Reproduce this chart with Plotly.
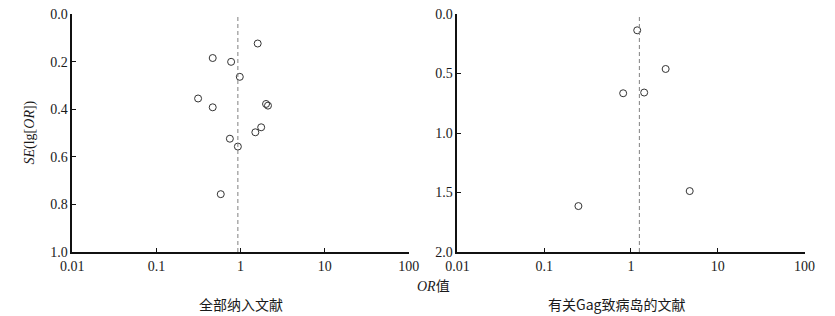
import plotly.graph_objects as go

# Left panel: all included studies
all_or = [1.60, 0.467, 0.773, 0.98, 0.313, 0.467, 2.01, 2.12, 1.76, 1.50, 0.747, 0.93, 0.582]
all_se = [0.124, 0.185, 0.201, 0.264, 0.355, 0.392, 0.378, 0.385, 0.476, 0.497, 0.524, 0.557, 0.757]
all_pooled = 0.93

# Right panel: studies on Gag pathogenicity island
gag_or = [1.18, 2.51, 0.813, 1.42, 4.75, 0.248]
gag_se = [0.137, 0.462, 0.666, 0.660, 1.488, 1.614]
gag_pooled = 1.25

x_ticks = [0.01, 0.1, 1, 10, 100]
x_tick_text = ["0.01", "0.1", "1", "10", "100"]
left_y_ticks = [0.0, 0.2, 0.4, 0.6, 0.8, 1.0]
right_y_ticks = [0.0, 0.5, 1.0, 1.5, 2.0]

SERIF = "Liberation Serif, Times New Roman, serif"
CJK = "Noto Sans CJK SC"
INK = "#1a1a1a"

W, H = 835, 316

def px(x):
    return x / W

fig = go.Figure()
marker = dict(symbol="circle-open", size=7, color="#333333", line=dict(width=1, color="#333333"))
fig.add_trace(go.Scatter(x=all_or, y=all_se, mode="markers", marker=marker,
                         xaxis="x", yaxis="y", showlegend=False))
fig.add_trace(go.Scatter(x=gag_or, y=gag_se, mode="markers", marker=marker,
                         xaxis="x2", yaxis="y2", showlegend=False))

axis_common = dict(showgrid=False, zeroline=False, showline=True, linecolor="#111111",
                   linewidth=1.5, ticks="inside", ticklen=4, tickwidth=1, tickcolor="#111111",
                   tickfont=dict(family=SERIF, size=14, color=INK), mirror=False,
                   ticklabeloverflow="allow")

top, bottom = 14, 252
fig.update_layout(
    width=W, height=H,
    font=dict(family=SERIF, size=14, color=INK),
    margin=dict(l=0, r=0, t=top, b=H - bottom),
    paper_bgcolor="white", plot_bgcolor="white",
    xaxis=dict(type="log", range=[-2, 2], domain=[px(62), px(408)], anchor="y",
               tickvals=x_ticks, ticktext=x_tick_text, **axis_common),
    yaxis=dict(range=[1.0, 0.0], domain=[0, 1], anchor="x",
               tickvals=left_y_ticks, tickformat=".1f", **axis_common),
    xaxis2=dict(type="log", range=[-2, 2], domain=[px(458), px(815)], anchor="y2",
                tickvals=x_ticks, ticktext=x_tick_text, **axis_common),
    yaxis2=dict(range=[2.0, 0.0], domain=[0, 1], anchor="x2",
                tickvals=right_y_ticks, tickformat=".1f", **axis_common),
)

fig.add_shape(type="line", xref="x", yref="y domain", x0=all_pooled, x1=all_pooled, y0=0, y1=1,
              line=dict(color="#808080", width=1, dash="4px,3px"))
fig.add_shape(type="line", xref="x2", yref="y2 domain", x0=gag_pooled, x1=gag_pooled, y0=0, y1=1,
              line=dict(color="#808080", width=1, dash="4px,3px"))

def py(y):
    return (bottom - y) / (bottom - top)

ann = dict(xref="paper", yref="paper", showarrow=False, xanchor="center", yanchor="middle")
fig.add_annotation(text="<i>SE</i>(lg[<i>OR</i>])", x=px(18), y=py(133), textangle=-90,
                   font=dict(family=SERIF, size=14, color=INK), **ann)
fig.add_annotation(text="<i>OR</i><span style='font-family:Noto Sans CJK SC'>值</span>",
                   x=px(433), y=py(285), font=dict(family=SERIF, size=14, color=INK), **ann)
fig.add_annotation(text="全部纳入文献", x=px(235), y=py(304),
                   font=dict(family=CJK, size=14, color=INK), **ann)
fig.add_annotation(text="有关Gag致病岛的文献", x=px(622), y=py(304),
                   font=dict(family=CJK, size=14, color=INK), **ann)

fig.write_html("out.html", config={"displayModeBar": False},
               post_script="document.body.style.margin='0';document.body.style.overflow='hidden';")
